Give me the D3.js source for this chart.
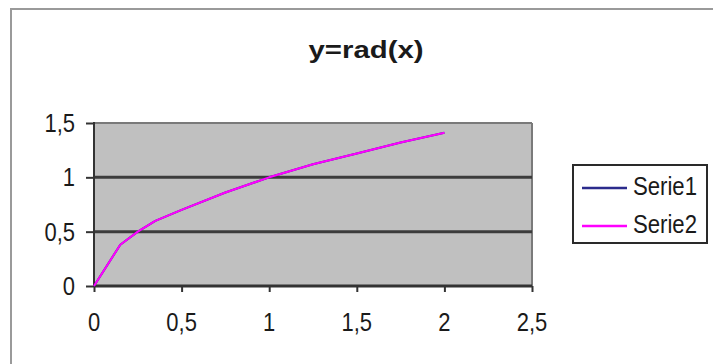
<!DOCTYPE html>
<html>
<head>
<meta charset="utf-8">
<script src="https://cdn.jsdelivr.net/npm/d3@7"></script>
<style>
  html, body { margin: 0; padding: 0; background: #fff; }
  svg { display: block; }
  text { font-family: "Liberation Sans", Arial, sans-serif; }
</style>
</head>
<body>
<svg id="chart" width="713" height="364"></svg>
<script>
const title = "y=rad(x)";
const seriesNames = ["Serie1", "Serie2"];
const seriesColors = ["#2b2b8c", "#ff00ff"];
const xValues = [0, 0.15, 0.25, 0.35, 0.5, 0.75, 1, 1.25, 1.5, 1.75, 2];
const serie1 = [0, 0.38, 0.5, 0.6, 0.7, 0.86, 1.0, 1.12, 1.22, 1.32, 1.41];
const serie2 = [0, 0.38, 0.5, 0.6, 0.7, 0.86, 1.0, 1.12, 1.22, 1.32, 1.41];
const xTicks = [0, 0.5, 1, 1.5, 2, 2.5];
const yTicks = [0, 0.5, 1, 1.5];

const fmt = d => String(d).replace(".", ",");
const svg = d3.select("#chart");
const W = 713, H = 364;

// outer chart frame (only top/left visible)
svg.append("line").attr("x1", 10).attr("x2", W).attr("y1", 9).attr("y2", 9)
  .attr("stroke", "#9a9a9a").attr("stroke-width", 2);
svg.append("line").attr("x1", 11).attr("x2", 11).attr("y1", 8).attr("y2", H)
  .attr("stroke", "#9a9a9a").attr("stroke-width", 2);

const x = d3.scaleLinear().domain([0, 2.5]).range([94, 532]);
const y = d3.scaleLinear().domain([0, 1.5]).range([286, 123]);

// plot area
svg.append("rect")
  .attr("x", x(0)).attr("y", y(1.5))
  .attr("width", x(2.5) - x(0)).attr("height", y(0) - y(1.5))
  .attr("fill", "#c0c0c0");

// top / right plot border
svg.append("line").attr("x1", x(0)).attr("x2", x(2.5)).attr("y1", y(1.5)).attr("y2", y(1.5))
  .attr("stroke", "#7a7a7a").attr("stroke-width", 2);
svg.append("line").attr("x1", x(2.5)).attr("x2", x(2.5)).attr("y1", y(1.5)).attr("y2", y(0))
  .attr("stroke", "#7a7a7a").attr("stroke-width", 2);

// gridlines
svg.selectAll("line.grid").data(yTicks.filter(t => t > 0 && t < 1.5)).enter()
  .append("line").attr("class", "grid")
  .attr("x1", x(0)).attr("x2", x(2.5))
  .attr("y1", d => y(d)).attr("y2", d => y(d))
  .attr("stroke", "#3c3c3c").attr("stroke-width", 3);

// axes
const xAxis = d3.axisBottom(x).tickValues(xTicks).tickSize(6).tickFormat("");
const yAxis = d3.axisLeft(y).tickValues(yTicks).tickSize(8).tickFormat("");
const gx = svg.append("g").attr("transform", `translate(0,${y(0)})`).call(xAxis);
const gy = svg.append("g").attr("transform", `translate(${x(0)},0)`).call(yAxis);
[gx, gy].forEach(g => {
  g.select(".domain").remove();
  g.selectAll(".tick line").attr("stroke", "#333").attr("stroke-width", 2);
});
svg.append("line").attr("x1", x(0)).attr("x2", x(2.5)).attr("y1", y(0)).attr("y2", y(0))
  .attr("stroke", "#333").attr("stroke-width", 3);
svg.append("line").attr("x1", x(0)).attr("x2", x(0)).attr("y1", y(1.5)-1).attr("y2", y(0)+1)
  .attr("stroke", "#333").attr("stroke-width", 2);

// stretched text helper
function label(px, py, str, anchor, size, weight, sy) {
  return svg.append("text")
    .attr("transform", `translate(${px},${py}) scale(1,${sy})`)
    .attr("text-anchor", anchor)
    .attr("font-size", size)
    .attr("font-weight", weight || "normal")
    .attr("fill", "#1a1a1a")
    .text(str);
}

// tick labels
yTicks.forEach(t => label(75, y(t) + 9, fmt(t), "end", 22, "normal", 1.15));
xTicks.forEach(t => label(x(t), 331, fmt(t), "middle", 22, "normal", 1.15));

// title
label(366, 58, title, "middle", 23, "bold", 1.0).attr("textLength", 115).attr("lengthAdjust", "spacingAndGlyphs");

// lines
const line = d3.line().x((d, i) => x(xValues[i])).y(d => y(d));
[serie1, serie2].forEach((s, k) => {
  svg.append("path").datum(s)
    .attr("d", line)
    .attr("fill", "none")
    .attr("stroke", seriesColors[k])
    .attr("stroke-width", 2)
    .attr("stroke-linejoin", "round");
});

// legend
const lg = svg.append("g");
lg.append("rect").attr("x", 573).attr("y", 165).attr("width", 134).attr("height", 78)
  .attr("fill", "#fff").attr("stroke", "#2a2a2a").attr("stroke-width", 2);
seriesNames.forEach((n, i) => {
  const ly = 188 + i * 38;
  lg.append("line").attr("x1", 582).attr("x2", 627).attr("y1", ly).attr("y2", ly)
    .attr("stroke", seriesColors[i]).attr("stroke-width", 2.5);
  label(633, ly + 7, n, "start", 22, "normal", 1.15).attr("textLength", 64).attr("lengthAdjust", "spacingAndGlyphs");
});
</script>
</body>
</html>
